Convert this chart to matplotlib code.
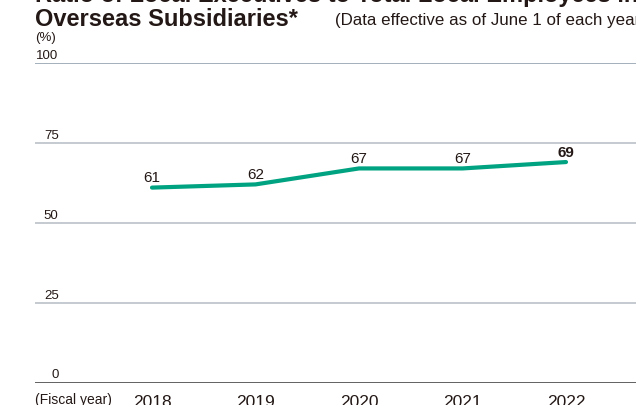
import matplotlib.pyplot as plt

plt.rcParams['font.family'] = ['Liberation Sans', 'DejaVu Sans']

years = ['2018', '2019', '2020', '2021', '2022']
ratio = [61, 62, 67, 67, 69]
yticks = [0, 25, 50, 75, 100]

W, H = 636, 406
fig = plt.figure(figsize=(W / 100, H / 100), dpi=100)

# axes run off the right edge like the cropped original
x0, x1 = 35, 640
ybot, ytop = 383.5, 64
ax = fig.add_axes([x0 / W, (H - ybot) / H, (x1 - x0) / W, (ybot - ytop) / H])
step = 103.5
first = 152
ax.set_xlim(-(first - x0) / step, (x1 - first) / step)
ax.set_ylim(0, 100)

for v in yticks[1:]:
    c = '#8a9aaa' if v == 100 else '#b4bcc4'
    ax.axhline(v, color=c, lw=1.1, zorder=1)
ax.axhline(0, color='#555555', lw=1.3, zorder=2)

xs = list(range(len(years)))
ax.plot(xs, ratio, color='#00a381', lw=3, solid_capstyle='round', zorder=3)

for i, v in enumerate(ratio):
    last = i == len(ratio) - 1
    ax.annotate(str(v), (i, v), xytext=(0, 2.5), textcoords='offset points',
                ha='center', va='bottom', fontsize=11, color='#231815',
                fontweight='bold' if last else 'normal')

ytr = ax.get_yaxis_transform()
for v in yticks:
    ax.annotate(str(v), (0.039, v), xycoords=ytr, xytext=(0, 1.5),
                textcoords='offset points', ha='right', va='bottom',
                fontsize=9.5, color='#231815')

for i, y in enumerate(years):
    ax.annotate(y, (i, 0), xytext=(0, -8), textcoords='offset points',
                ha='center', va='top', fontsize=12.5, color='#231815')
ax.annotate('(Fiscal year)', (0, 0), xycoords='axes fraction', xytext=(0, -7),
            textcoords='offset points', ha='left', va='top', fontsize=10,
            color='#231815')

ax.axis('off')

fig.text(x0 / W, (H - 38) / H, '(%)', fontsize=9.5, color='#231815', va='center')
fig.text(x0 / W, (H - 26) / H, 'Overseas Subsidiaries*', fontsize=17,
         fontweight='bold', color='#231815', va='baseline')
fig.text(x0 / W, (H - 2) / H, 'Ratio of Local Executives to Total Local Employees in',
         fontsize=17, fontweight='bold', color='#231815', va='baseline')
fig.text(335 / W, (H - 25) / H, '(Data effective as of June 1 of each year)',
         fontsize=12.2, color='#231815', va='baseline')

fig.savefig('out.png', dpi=100)
